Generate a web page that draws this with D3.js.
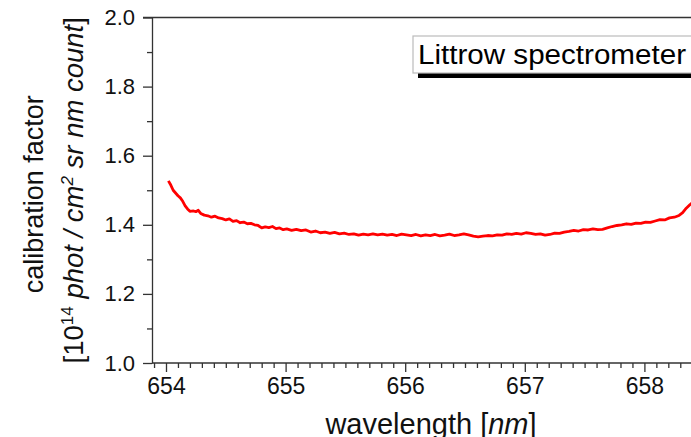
<!DOCTYPE html>
<html>
<head>
<meta charset="utf-8">
<script src="https://cdn.jsdelivr.net/npm/d3@7"></script>
<style>
  body { margin: 0; background: #fff; }
  svg { display: block; font-family: Arial, "Liberation Sans", sans-serif; }
</style>
</head>
<body>
<div class="chart"></div>
<script>
// wavelength [nm] and calibration factor
var waves = [654.02, 654.04, 654.06, 654.08, 654.10, 654.12, 654.14, 654.16, 654.18, 654.20,
  654.23, 654.25, 654.27, 654.29, 654.32, 654.35, 654.38, 654.41, 654.44, 654.47,
  654.50, 654.53, 654.56, 654.59, 654.62, 654.65, 654.68, 654.71, 654.74, 654.77,
  654.80, 654.83, 654.86, 654.89, 654.92, 654.95, 654.98, 655.01, 655.05, 655.09,
  655.13, 655.17, 655.21, 655.25, 655.29, 655.33, 655.37, 655.41, 655.45, 655.49,
  655.53, 655.57, 655.61, 655.65, 655.69, 655.73, 655.77, 655.81, 655.85, 655.89,
  655.93, 655.97, 656.01, 656.05, 656.09, 656.13, 656.17, 656.21, 656.25, 656.29,
  656.33, 656.37, 656.41, 656.45, 656.49, 656.53, 656.57, 656.61, 656.65, 656.69,
  656.73, 656.77, 656.81, 656.85, 656.89, 656.93, 656.97, 657.01, 657.05, 657.09,
  657.13, 657.17, 657.21, 657.25, 657.29, 657.33, 657.37, 657.41, 657.45, 657.49,
  657.53, 657.57, 657.61, 657.65, 657.69, 657.73, 657.77, 657.81, 657.85, 657.89,
  657.93, 657.97, 658.01, 658.05, 658.09, 658.13, 658.17, 658.21, 658.25, 658.29,
  658.32, 658.35, 658.38, 658.41];
var factors = [1.527, 1.515, 1.500, 1.492, 1.484, 1.478, 1.468, 1.455, 1.446, 1.439,
  1.440, 1.438, 1.442, 1.433, 1.428, 1.426, 1.422, 1.425, 1.420, 1.418,
  1.414, 1.417, 1.410, 1.412, 1.406, 1.408, 1.403, 1.404, 1.400, 1.398,
  1.391, 1.394, 1.392, 1.395, 1.389, 1.391, 1.386, 1.388, 1.384, 1.387,
  1.383, 1.385, 1.379, 1.382, 1.377, 1.379, 1.375, 1.378, 1.374, 1.376,
  1.372, 1.374, 1.370, 1.373, 1.371, 1.374, 1.371, 1.373, 1.370, 1.372,
  1.369, 1.373, 1.371, 1.369, 1.372, 1.368, 1.371, 1.369, 1.372, 1.368,
  1.370, 1.373, 1.369, 1.371, 1.374, 1.371, 1.367, 1.365, 1.367, 1.369,
  1.368, 1.371, 1.370, 1.374, 1.372, 1.375, 1.373, 1.377, 1.375, 1.372,
  1.374, 1.370, 1.372, 1.376, 1.375, 1.379, 1.381, 1.384, 1.382, 1.386,
  1.385, 1.388, 1.386, 1.387, 1.391, 1.395, 1.398, 1.400, 1.403, 1.401,
  1.405, 1.404, 1.408, 1.407, 1.411, 1.415, 1.414, 1.420, 1.422, 1.427,
  1.435, 1.448, 1.458, 1.466];

var xTicks = [654, 655, 656, 657, 658];
var yTicks = [1.0, 1.2, 1.4, 1.6, 1.8, 2.0];
var legendLabel = "Littrow spectrometer";

var W = 691, H = 437;
var plotLeft = 152, plotTop = 17.5, plotBottom = 363, plotRight = 720;

var x = d3.scaleLinear().domain([654, 658]).range([166, 644.4]);
var y = d3.scaleLinear().domain([1.0, 2.0]).range([plotBottom, plotTop]);

var svg = d3.select(".chart").append("svg")
  .attr("width", W)
  .attr("height", H);

// minor ticks every 0.1
var xMinor = d3.range(6539, 6585).map(function(d) { return d / 10; })
  .filter(function(d) { return Math.abs(d - Math.round(d)) > 1e-6; });
var yMinor = [1.1, 1.3, 1.5, 1.7, 1.9];

var axisColor = "#333";

// top frame line
svg.append("line")
  .attr("x1", 143).attr("x2", plotRight)
  .attr("y1", plotTop).attr("y2", plotTop)
  .attr("stroke", axisColor).attr("stroke-width", 1.3);

// x axis
var gx = svg.append("g").attr("transform", "translate(0," + plotBottom + ")");
gx.call(d3.axisBottom(x).tickValues(xMinor).tickSize(5).tickSizeOuter(0).tickFormat(""));
gx.select(".domain").remove();
var gx2 = svg.append("g").attr("transform", "translate(0," + plotBottom + ")");
gx2.call(d3.axisBottom(x).tickValues(xTicks).tickSize(9).tickSizeOuter(0).tickPadding(6).tickFormat(d3.format("d")));
gx2.select(".domain").remove();
svg.append("line")
  .attr("x1", plotLeft).attr("x2", plotRight)
  .attr("y1", plotBottom).attr("y2", plotBottom)
  .attr("stroke", axisColor).attr("stroke-width", 1.3);

// y axis
var gy = svg.append("g").attr("transform", "translate(" + plotLeft + ",0)");
gy.call(d3.axisLeft(y).tickValues(yMinor).tickSize(5).tickSizeOuter(0).tickFormat(""));
gy.select(".domain").remove();
var gy2 = svg.append("g").attr("transform", "translate(" + plotLeft + ",0)");
gy2.call(d3.axisLeft(y).tickValues(yTicks).tickSize(9).tickSizeOuter(0).tickPadding(8).tickFormat(d3.format(".1f")));
gy2.select(".domain").attr("stroke", axisColor).attr("stroke-width", 1.3);

svg.selectAll(".tick line").attr("stroke", axisColor).attr("stroke-width", 1.3);
gx2.selectAll(".tick text").attr("font-size", 23).attr("fill", "#111")
  .attr("font-family", "Arial, 'Liberation Sans', sans-serif");
gy2.selectAll(".tick text").attr("font-size", 22).attr("fill", "#111")
  .attr("font-family", "Arial, 'Liberation Sans', sans-serif");

// curve
var pts = waves.map(function(w, i) { return [w, factors[i]]; });
svg.append("path")
  .datum(pts)
  .attr("fill", "none")
  .attr("stroke", "#ff0000")
  .attr("stroke-width", 2.8)
  .attr("stroke-linejoin", "round")
  .attr("d", d3.line().x(function(d) { return x(d[0]); }).y(function(d) { return y(d[1]); }));

// legend
svg.append("rect")
  .attr("x", 418).attr("y", 41).attr("width", 320).attr("height", 37)
  .attr("fill", "#000");
svg.append("rect")
  .attr("x", 413).attr("y", 36).attr("width", 320).attr("height", 37)
  .attr("fill", "#fff").attr("stroke", "#bbb").attr("stroke-width", 1.2);
svg.append("text")
  .attr("x", 418).attr("y", 63.5)
  .attr("font-size", 27)
  .attr("textLength", 268)
  .attr("lengthAdjust", "spacingAndGlyphs")
  .attr("fill", "#000")
  .text(legendLabel);

// x label
var xl = svg.append("text")
  .attr("x", 431).attr("y", 434)
  .attr("text-anchor", "middle")
  .attr("font-size", 29)
  .attr("fill", "#111");
xl.append("tspan").text("wavelength [");
xl.append("tspan").attr("font-style", "italic").text("nm");
xl.append("tspan").text("]");

// y label
var cy = (plotTop + plotBottom) / 2;
svg.append("text")
  .attr("transform", "translate(43," + (cy + 4) + ") rotate(-90)")
  .attr("text-anchor", "middle")
  .attr("font-size", 27)
  .attr("fill", "#111")
  .text("calibration factor");

var yl = svg.append("text")
  .attr("transform", "translate(83," + cy + ") rotate(-90)")
  .attr("text-anchor", "middle")
  .attr("font-size", 27.5)
  .attr("fill", "#111");
yl.append("tspan").text("[10");
yl.append("tspan").attr("font-size", 17).attr("dy", -10).text("14");
yl.append("tspan").attr("dy", 10).attr("font-style", "italic").text(" phot / cm");
yl.append("tspan").attr("font-size", 17).attr("dy", -10).attr("font-style", "italic").text("2");
yl.append("tspan").attr("dy", 10).attr("font-style", "italic").text(" sr nm count");
yl.append("tspan").text("]");
</script>
</body>
</html>
